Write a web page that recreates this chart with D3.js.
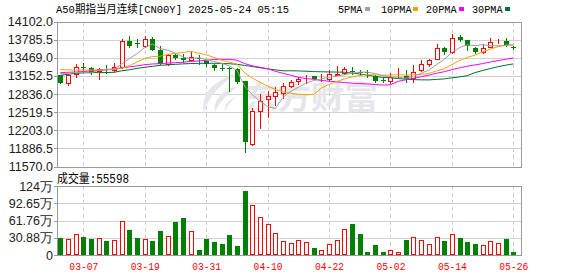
<!DOCTYPE html>
<meta charset="utf-8">
<style>
body { margin: 0; background: #fff; }
svg text { font-family: "Liberation Sans", Arial, sans-serif; }
.mono { font-family: "Liberation Mono", "Noto Sans CJK SC", monospace; }
.cjk { font-family: "Noto Sans CJK SC", sans-serif; }
</style>
<svg width="578" height="276"></svg>
<script src="https://d3js.org/d3.v7.min.js"></script>
<script>

// daily candles, oldest first (60 sessions)
var opens  = [13162,13035,13192,13300,13296,13245,13265,13262,13307,13754,
              13720,13672,13789,13597,13366,13510,13463,13436,13470,13406,
              13342,13282,13290,13279,13058,11957,12541,12740,12797,12861,
              12976,13058,13150,13145,13110,13105,13175,13210,13240,13212,
              13215,13145,13080,13058,13185,13150,13122,13262,13366,13453,
              13638,13568,13829,13771,13644,13568,13655,13771,13754,13660];
var highs  = [13170,13192,13354,13377,13310,13284,13336,13383,13789,13846,
              13789,13846,13829,13679,13540,13540,13528,13568,13516,13436,
              13366,13366,13302,13290,13070,12600,12832,12889,12959,13028,
              13075,13133,13160,13150,13180,13249,13319,13307,13307,13262,
              13250,13160,13110,13203,13285,13249,13336,13436,13445,13714,
              13650,13888,13858,13780,13650,13714,13818,13789,13818,13672];
var lows   = [13025,13000,13133,13220,13180,13093,13202,13220,13290,13660,
              13655,13660,13600,13360,13350,13446,13394,13410,13366,13331,
              13262,13250,12889,13020,11817,11950,12246,12437,12640,12774,
              12960,13006,13028,13090,13063,13060,13163,13192,13192,13163,
              13133,13050,13040,13030,13140,13046,13046,13230,13330,13440,
              13540,13560,13760,13597,13560,13560,13650,13725,13680,13626];
var closes = [13035,13175,13307,13290,13210,13280,13255,13307,13754,13672,
              13710,13789,13610,13366,13523,13463,13436,13481,13441,13366,
              13296,13275,13267,13040,12002,12536,12710,12797,12872,12971,
              13041,13093,13152,13093,13120,13192,13185,13267,13237,13205,
              13195,13063,13075,13133,13192,13093,13220,13354,13436,13638,
              13568,13818,13783,13667,13568,13644,13742,13771,13684,13655];
// volume, in 万
var volumes = [30.6,28.8,37.7,32.3,28.8,30.0,25.2,27.0,61.1,44.9,
               30.6,28.8,25.2,43.1,34.1,59.9,66.5,43.1,9.0,28.8,
               23.9,19.8,35.9,16.2,115,89.9,67.7,55.7,39.5,25.2,
               21.6,27.0,23.4,12.6,8.4,19.8,27.0,46.1,55.7,37.7,
               5.4,18.0,5.4,8.4,4.8,27.0,31.8,27.0,19.8,31.8,
               25.2,37.7,30.6,23.9,19.8,17.4,25.2,21.6,28.8,5.5598];

var ma5  = [13190,13197,13215,13215,13203,13252,13268,13268,13361,13454,
            13540,13646,13707,13629,13600,13550,13480,13454,13469,13437,
            13404,13372,13329,13249,12976,12824,12711,12617,12583,12777,
            12878,12955,13026,13070,13100,13130,13148,13171,13200,13217,
            13218,13193,13155,13134,13131,13111,13143,13197,13255,13347,
            13442,13559,13646,13695,13681,13696,13681,13678,13682,13699];
var ma10 = [13262,13258,13255,13255,13255,13256,13258,13262,13288,13329,
            13396,13457,13488,13495,13527,13545,13563,13581,13549,13519,
            13477,13426,13392,13359,13207,13114,13042,12973,12916,12877,
            12851,12833,12822,12827,12939,13004,13052,13099,13135,13159,
            13174,13171,13163,13167,13174,13165,13168,13176,13195,13238,
            13276,13351,13422,13475,13514,13569,13620,13662,13689,13690];
var ma20 = [13209,13215,13220,13229,13237,13246,13258,13276,13293,13310,
            13326,13348,13360,13366,13376,13383,13391,13405,13412,13424,
            13437,13442,13440,13427,13367,13330,13302,13277,13233,13198,
            13164,13129,13106,13093,13073,13059,13047,13036,13026,13018,
            13013,13002,12992,12997,13056,13084,13110,13137,13165,13198,
            13225,13261,13293,13321,13344,13366,13394,13419,13442,13464];
var ma30 = [13162,13180,13197,13206,13209,13209,13211,13215,13241,13258,
            13284,13302,13319,13336,13345,13354,13362,13368,13371,13373,
            13372,13370,13365,13355,13335,13315,13295,13275,13258,13241,
            13241,13239,13234,13227,13224,13221,13219,13217,13200,13185,
            13167,13143,13125,13118,13106,13094,13087,13083,13082,13091,
            13100,13118,13135,13156,13209,13246,13280,13312,13339,13362];

var dateTicks  = [3, 11, 19, 27, 35, 43, 51, 59];
var dateLabels = ["03-07","03-19","03-31","04-10","04-22","05-02","05-14","05-26"];
var priceTicks = [11570, 11886.5, 12203, 12519.5, 12836, 13152.5, 13469, 13785.5, 14102];
var volTicks   = [0, 30.88, 61.76, 92.65, 124];
var volLabels  = ["0", "30.88万", "61.76万", "92.65万", "124万"];

var maNames  = ["5PMA", "10PMA", "20PMA", "30PMA"];
var maColors = ["#a0a0a0", "#f5a300", "#ff00ff", "#006f34"];

var UP = "#ff0000", DOWN = "#008000", GRID = "#d2d2d2", FRAME = "#999";

var svg = d3.select("svg");
var left = 57, right = 522;

var x  = d3.scaleLinear().domain([0, closes.length - 1]).range([60.3, 513.3]);
var y  = d3.scaleLinear().domain([11570, 14102]).range([166.5, 21.5]);
var yv = d3.scaleLinear().domain([0, 124]).range([255, 186]);

function px(v) { return Math.round(v) + 0.5; }
function isUp(i) {
  if (closes[i] !== opens[i]) return closes[i] > opens[i];
  return i === 0 || closes[i] >= closes[i - 1];
}

// header
svg.append("text").attr("class", "mono")
    .attr("x", 56).attr("y", 12.5)
    .attr("font-size", 11.5).attr("fill", "#000")
    .attr("textLength", 233).attr("lengthAdjust", "spacingAndGlyphs")
    .text("A50期指当月连续[CN00Y] 2025-05-24 05:15");

var legendX = [338, 381, 426, 472];
var markX   = [365, 413, 459, 505];
maNames.forEach(function(n, k) {
  svg.append("text").attr("class", "mono")
      .attr("x", legendX[k]).attr("y", 12.5)
      .attr("font-size", 11).attr("fill", "#000")
      .attr("textLength", n.length * 6.1).attr("lengthAdjust", "spacingAndGlyphs")
      .text(n);
  svg.append("rect")
      .attr("x", markX[k]).attr("y", 7).attr("width", 5).attr("height", 4)
      .attr("fill", maColors[k]);
});

// grids
var grid = svg.append("g").attr("shape-rendering", "crispEdges");
grid.selectAll(".hp").data(priceTicks.slice(1, -1)).enter().append("line")
    .attr("x1", left).attr("x2", right)
    .attr("y1", function(d) { return px(y(d)); }).attr("y2", function(d) { return px(y(d)); })
    .attr("stroke", GRID);
grid.selectAll(".hv").data(volTicks.slice(1, -1)).enter().append("line")
    .attr("x1", left).attr("x2", right)
    .attr("y1", function(d) { return px(yv(d)); }).attr("y2", function(d) { return px(yv(d)); })
    .attr("stroke", GRID);
[[y(14102), y(11570)], [yv(124), yv(0)]].forEach(function(r) {
  grid.selectAll(null).data(dateTicks).enter().append("line")
      .attr("x1", function(d) { return px(x(d)); }).attr("x2", function(d) { return px(x(d)); })
      .attr("y1", r[0]).attr("y2", r[1])
      .attr("stroke", "#cfcfcf").attr("stroke-dasharray", "4,3");
});

// watermark
var wm = svg.append("g").attr("fill", "#e6e6ea");
wm.append("path").attr("d", "M236,74 C214,80 200,94 204,113 C208,97 220,85 236,74 Z");
wm.append("path").attr("d", "M238,86 C222,90 213,100 215,112 C220,101 228,94 238,86 Z");
wm.append("path").attr("d", "M236,97 C228,100 224,105 225,111 C228,105 231,101 236,97 Z");
wm.append("text").attr("class", "cjk")
    .attr("x", 244).attr("y", 109).attr("font-size", 32).attr("font-weight", "bold")
    .attr("textLength", 134).attr("lengthAdjust", "spacingAndGlyphs")
    .text("东方财富");

// frames
svg.append("rect").attr("x", left + 0.5).attr("y", px(y(14102)) )
    .attr("width", right - left - 1).attr("height", px(y(11570)) - px(y(14102)))
    .attr("fill", "none").attr("stroke", FRAME).attr("shape-rendering", "crispEdges");
svg.append("rect").attr("x", left + 0.5).attr("y", px(yv(124)))
    .attr("width", right - left - 1).attr("height", px(yv(0)) - px(yv(124)))
    .attr("fill", "none").attr("stroke", FRAME).attr("shape-rendering", "crispEdges");

// candles
var idx = d3.range(closes.length);
var cg = svg.append("g").attr("shape-rendering", "crispEdges");
cg.selectAll(".wick").data(idx).enter().append("line")
    .attr("x1", function(i) { return px(x(i)); }).attr("x2", function(i) { return px(x(i)); })
    .attr("y1", function(i) { return Math.round(y(highs[i])); })
    .attr("y2", function(i) { return Math.round(y(lows[i])) + 1; })
    .attr("stroke", function(i) { return isUp(i) ? UP : DOWN; });
cg.selectAll(".body").data(idx).enter().append("rect")
    .each(function(i) {
      var top = Math.round(y(Math.max(opens[i], closes[i]))),
          bot = Math.round(y(Math.min(opens[i], closes[i]))),
          cx = Math.round(x(i)), el = d3.select(this);
      if (isUp(i)) {
        el.attr("x", cx - 2 + 0.5).attr("y", top + 0.5)
          .attr("width", 4).attr("height", Math.max(bot - top, 0))
          .attr("fill", "#fff").attr("stroke", UP);
      } else {
        el.attr("x", cx - 2).attr("y", top)
          .attr("width", 5).attr("height", Math.max(bot - top, 1))
          .attr("fill", DOWN);
      }
    });

// moving averages
[ma30, ma20, ma10, ma5].forEach(function(s, k) {
  svg.append("path").datum(s)
      .attr("fill", "none").attr("stroke", maColors[3 - k]).attr("stroke-width", 1)
      .attr("d", d3.line().x(function(d, i) { return x(i); }).y(function(d) { return y(d); }));
});

// volume bars
var vg = svg.append("g").attr("shape-rendering", "crispEdges");
vg.selectAll("rect").data(idx).enter().append("rect")
    .each(function(i) {
      var top = Math.round(yv(volumes[i])), bot = Math.round(yv(0)),
          cx = Math.round(x(i)), el = d3.select(this);
      if (isUp(i)) {
        el.attr("x", cx - 2 + 0.5).attr("y", top + 0.5).attr("width", 4)
          .attr("height", bot - top - 1).attr("fill", "#fff").attr("stroke", UP);
      } else {
        el.attr("x", cx - 2).attr("y", top).attr("width", 5)
          .attr("height", bot - top).attr("fill", DOWN);
      }
    });

svg.append("text").attr("class", "mono")
    .attr("x", 57).attr("y", 182.5).attr("font-size", 12).attr("fill", "#000")
    .attr("textLength", 72).attr("lengthAdjust", "spacingAndGlyphs")
    .text("成交量:" + Math.round(volumes[volumes.length - 1] * 10000));

// axes
function styleAxis(g) {
  g.select(".domain").remove();
  g.selectAll(".tick line").attr("stroke", FRAME).attr("shape-rendering", "crispEdges");
  g.selectAll("text").attr("fill", "#222").attr("font-family", "Liberation Sans, Arial, sans-serif");
}
svg.append("g").attr("transform", "translate(" + left + ",0)")
    .call(d3.axisLeft(y).tickValues(priceTicks).tickFormat(d3.format(".1f")).tickSize(3).tickPadding(1))
    .call(styleAxis)
    .attr("font-size", 12.5);
svg.append("g").attr("transform", "translate(" + left + ",0)")
    .call(d3.axisLeft(yv).tickValues(volTicks).tickFormat(function(d, i) { return volLabels[i]; })
          .tickSize(3).tickPadding(1))
    .call(styleAxis)
    .attr("font-size", 12.5)
    .selectAll("text").attr("font-family", "Liberation Sans, Noto Sans CJK SC, sans-serif");
var xa = svg.append("g").attr("transform", "translate(0,259)")
    .call(d3.axisBottom(x).tickValues(dateTicks).tickFormat(function(d, i) { return dateLabels[i]; })
          .tickSize(0).tickPadding(3));
xa.select(".domain").remove();
xa.selectAll("text").attr("class", "mono").attr("fill", UP).attr("font-size", 11.5)
    .attr("font-family", null)
    .attr("textLength", 29).attr("lengthAdjust", "spacingAndGlyphs");

</script>
